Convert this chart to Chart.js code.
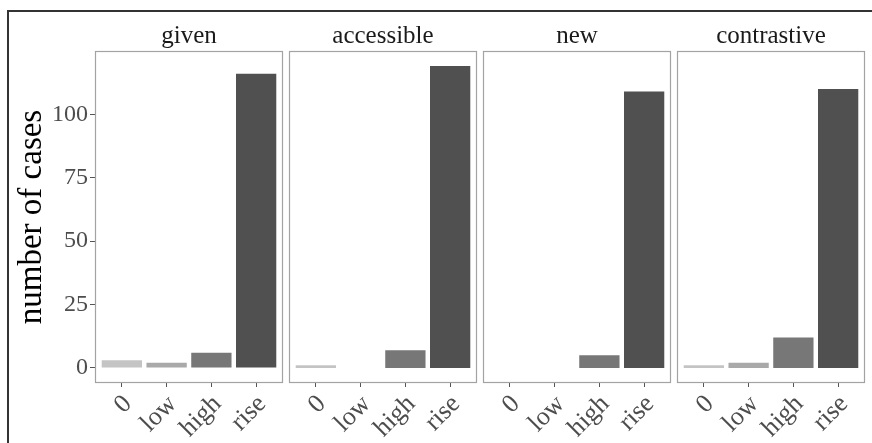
<!DOCTYPE html>
<html>
<head>
<meta charset="utf-8">
<script src="https://cdn.jsdelivr.net/npm/chart.js@4"></script>
<style>
  html, body { margin: 0; padding: 0; background: #fff; }
  #wrap { position: relative; width: 872px; height: 443px; overflow: hidden; }
  #frame { position: absolute; left: 7px; top: 10px; right: -5px; bottom: -5px;
           border-left: 2px solid #333; border-top: 2px solid #333; }
  .panel { position: absolute; top: 0; height: 443px; }
</style>
</head>
<body>
<div id="wrap">
  <div id="frame"></div>
  <div class="panel" id="p0"><canvas id="c0"></canvas></div>
  <div class="panel" id="p1"><canvas id="c1"></canvas></div>
  <div class="panel" id="p2"><canvas id="c2"></canvas></div>
  <div class="panel" id="p3"><canvas id="c3"></canvas></div>
</div>
<script>
// DATA
const categories = ['0', 'low', 'high', 'rise'];
const facets = ['given', 'accessible', 'new', 'contrastive'];

const givenCounts = [3, 2, 6, 116];
const accessibleCounts = [1, 0, 7, 119];
const newCounts = [0, 0, 5, 109];
const contrastiveCounts = [1, 2, 12, 110];

const yTicks = [0, 25, 50, 75, 100];
const barColors = ['#c4c4c4', '#a9a9a9', '#777777', '#505050'];

const counts = [givenCounts, accessibleCounts, newCounts, contrastiveCounts];

// ggplot-like 5% expansion
const maxCount = Math.max(...counts.flat());
const yMin = -0.05 * maxCount;
const yMax = maxCount * 1.05;

const SERIF = '"Liberation Serif", "Times New Roman", serif';

// draw the grey panel border around the plot area
const panelBox = {
  id: 'panelBox',
  afterDraw(chart) {
    const {ctx, chartArea: a} = chart;
    ctx.save();
    ctx.strokeStyle = '#a3a3a3';
    ctx.lineWidth = 1.2;
    ctx.strokeRect(a.left + 0.5, a.top + 0.5, a.right - a.left - 1, a.bottom - a.top - 1);
    ctx.restore();
  }
};

const PANEL_LEFT = 95;
const PANEL_W = 188;
const PANEL_STEP = 194;

function makePanel(k) {
  const first = k === 0;
  const panelLeft = PANEL_LEFT + k * PANEL_STEP;
  const box = document.getElementById('p' + k);
  const canvasLeft = first ? 0 : panelLeft - 3;
  box.style.left = canvasLeft + 'px';
  box.style.width = (panelLeft + PANEL_W + 3 - canvasLeft) + 'px';

  const data = {
    datasets: [{
      data: counts[k].map((v, i) => ({x: i, y: v})),
      backgroundColor: barColors,
      borderWidth: 0,
      barPercentage: 0.9,
      categoryPercentage: 1,
    }]
  };

  const config = {
    type: 'bar',
    data,
    plugins: [panelBox],
    options: {
      responsive: true,
      maintainAspectRatio: false,
      animation: false,
      layout: {
        padding: {top: 21, bottom: 0, left: first ? 0 : 3, right: 3}
      },
      plugins: {
        legend: {display: false},
        tooltip: {enabled: false},
        title: {
          display: true,
          text: facets[k],
          fullSize: false,
          color: '#1a1a1a',
          font: {family: SERIF, size: 25, weight: 'normal'},
          padding: {top: 0, bottom: 0},
        }
      },
      scales: {
        x: {
          type: 'linear',
          min: -0.6,
          max: 3.6,
          offset: false,
          afterBuildTicks: (axis) => {
            axis.ticks = categories.map((c, i) => ({value: i}));
          },
          afterFit: (axis) => { axis.height = 60; },
          grid: {
            offset: false,
            drawOnChartArea: false,
            tickLength: 4,
            tickColor: '#555',
          },
          border: {display: false},
          ticks: {
            autoSkip: false,
            minRotation: 45,
            maxRotation: 45,
            padding: 2,
            labelOffset: 6,
            color: '#4d4d4d',
            font: {family: SERIF, size: 26},
            callback: (v) => categories[v],
          }
        },
        y: {
          display: first,
          min: yMin,
          max: yMax,
          afterBuildTicks: (axis) => {
            axis.ticks = yTicks.map(v => ({value: v}));
          },
          afterFit: (axis) => { if (first) axis.width = PANEL_LEFT; },
          grid: {
            drawOnChartArea: false,
            tickLength: 5,
            tickColor: '#555',
          },
          border: {display: false},
          ticks: {
            padding: 2,
            color: '#4d4d4d',
            font: {family: SERIF, size: 24},
          },
          title: {
            display: true,
            text: 'number of cases',
            color: '#000',
            font: {family: SERIF, size: 33},
            padding: {top: 13, bottom: 0},
          }
        }
      }
    }
  };

  return new Chart(document.getElementById('c' + k), config);
}

// CHARTS
const charts = facets.map((f, k) => makePanel(k));
</script>
</body>
</html>
